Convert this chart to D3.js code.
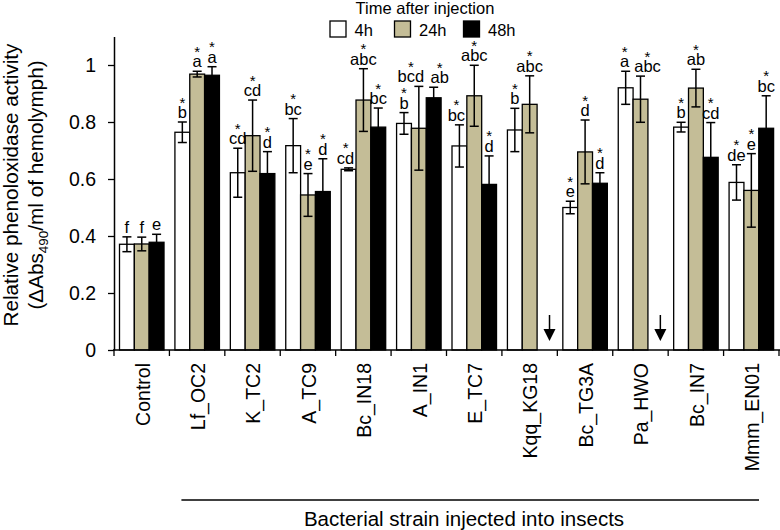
<!DOCTYPE html>
<html>
<head>
<meta charset="utf-8">
<script src="https://cdn.jsdelivr.net/npm/d3@7"></script>
<style>
  html, body { margin: 0; padding: 0; background: #fff; }
  svg { display: block; font-family: "Liberation Sans", Arial, sans-serif; }
</style>
</head>
<body>
<svg id="chart" width="780" height="530"></svg>
<script>
// ---------------- data ----------------
const categories = ["Control", "Lf_OC2", "K_TC2", "A_TC9", "Bc_IN18", "A_IN1", "E_TC7",
                    "Kqq_KG18", "Bc_TG3A", "Pa_HWO", "Bc_IN7", "Mmm_EN01"];
const seriesNames = ["4h", "24h", "48h"];
const v4h  = [0.371, 0.764, 0.622, 0.717, 0.634, 0.795, 0.716, 0.772, 0.500, 0.920, 0.782, 0.588];
const v24h = [0.372, 0.968, 0.752, 0.544, 0.877, 0.778, 0.892, 0.862, 0.695, 0.880, 0.919, 0.560];
const v48h = [0.378, 0.964, 0.619, 0.556, 0.782, 0.885, 0.581, null,  0.585, null,  0.676, 0.778];
const e4h  = [0.026, 0.036, 0.086, 0.095, 0.005, 0.038, 0.074, 0.076, 0.022, 0.058, 0.017, 0.062];
const e24h = [0.024, 0.010, 0.125, 0.075, 0.110, 0.147, 0.107, 0.100, 0.112, 0.081, 0.066, 0.129];
const e48h = [0.028, 0.030, 0.077, 0.115, 0.067, 0.037, 0.100, null,  0.037, null,  0.122, 0.114];
const l4h  = ["f", "b", "cd", "bc", "cd", "b", "bc", "b", "e", "a", "b", "de"];
const l24h = ["f", "a", "cd", "e", "abc", "bcd", "abc", "abc", "d", "abc", "ab", "e"];
const l48h = ["e", "a", "d", "d", "bc", "ab", "d", null, "d", null, "cd", "bc"];
const starred = [false, true, true, true, true, true, true, true, true, true, true, true];
const yTicks = [0, 0.2, 0.4, 0.6, 0.8, 1];
const yMax = 1.1;

// ---------------- layout / style ----------------
const fills = { "4h": "#ffffff", "24h": "#c4bd97", "48h": "#000000" };
const FONT = '"Liberation Sans", Arial, sans-serif';
const plotLeft = 114, plotRight = 779, plotBottom = 350, plotTop = 36.5;
// manual label nudges to avoid overlap (category|series -> dx px)
const labelNudge = { "A_IN1|24h": -8, "A_IN1|48h": 6, "Bc_IN18|4h": -3, "E_TC7|4h": -3,
                     "Pa_HWO|24h": 7, "Pa_HWO|4h": -1 };

const vals = { "4h": v4h, "24h": v24h, "48h": v48h };
const errs = { "4h": e4h, "24h": e24h, "48h": e48h };
const lets = { "4h": l4h, "24h": l24h, "48h": l48h };

const rows = [];
categories.forEach((c, i) => {
  seriesNames.forEach(s => {
    rows.push({ cat: c, idx: i, s, v: vals[s][i], e: errs[s][i], l: lets[s][i], star: starred[i] });
  });
});

const svg = d3.select("#chart");

const x0 = d3.scaleBand().domain(categories).range([plotLeft, plotRight]).padding(0);
const bwCat = x0.bandwidth();
const x1 = d3.scaleBand().domain(seriesNames).range([5.5, bwCat - 5.4]).padding(0);
const y = d3.scaleLinear().domain([0, yMax]).range([plotBottom, plotTop]);

const present = rows.filter(d => d.v !== null);

// bars
svg.append("g").selectAll("rect").data(present).join("rect")
  .attr("x", d => x0(d.cat) + x1(d.s))
  .attr("y", d => y(d.v))
  .attr("width", x1.bandwidth())
  .attr("height", d => y(0) - y(d.v))
  .attr("fill", d => fills[d.s])
  .attr("stroke", "#000")
  .attr("stroke-width", 1.3);

// error bars
const eg = svg.append("g").attr("stroke", "#000").attr("stroke-width", 1.5).attr("fill", "none");
const cap = 4.5;
present.forEach(d => {
  const cx = x0(d.cat) + x1(d.s) + x1.bandwidth() / 2;
  const yt = y(d.v + d.e), yb = y(d.v - d.e);
  eg.append("line").attr("x1", cx).attr("x2", cx).attr("y1", yt).attr("y2", yb);
  eg.append("line").attr("x1", cx - cap).attr("x2", cx + cap).attr("y1", yt).attr("y2", yt);
  eg.append("line").attr("x1", cx - cap).attr("x2", cx + cap).attr("y1", yb).attr("y2", yb);
});

// letters and asterisks (one text element per bar: asterisk line above letter line)
const lg = svg.append("g").attr("font-family", FONT).attr("text-anchor", "middle").attr("fill", "#000");
present.forEach(d => {
  const cx = x0(d.cat) + x1(d.s) + x1.bandwidth() / 2 + (labelNudge[d.cat + "|" + d.s] || 0);
  const base = y(d.v + d.e) - 4;
  const t = lg.append("text").attr("x", cx).attr("y", base);
  if (d.star) {
    t.append("tspan").attr("x", cx).attr("y", base - 10.5).attr("font-size", 15).text("*");
  }
  t.append("tspan").attr("x", cx).attr("y", base).attr("font-size", 16.5).text(d.l);
});

// arrows for missing bars
const ag = svg.append("g");
rows.filter(d => d.v === null).forEach(d => {
  const cx = x0(d.cat) + x1(d.s) + x1.bandwidth() / 2 + 5;
  const yTop = y(0) - 35, yHeadTop = y(0) - 21, yTip = y(0) - 9;
  ag.append("line").attr("x1", cx).attr("x2", cx).attr("y1", yTop).attr("y2", yHeadTop + 2)
    .attr("stroke", "#000").attr("stroke-width", 1.5);
  ag.append("path").attr("d", `M${cx - 6},${yHeadTop} L${cx + 6},${yHeadTop} L${cx},${yTip} Z`).attr("fill", "#000");
});

// y axis
const yAxis = d3.axisLeft(y).tickValues(yTicks).tickSize(6).tickSizeOuter(0).tickPadding(12)
  .tickFormat(d => String(d));
const yg = svg.append("g").attr("transform", `translate(${plotLeft},0)`).call(yAxis);
yg.select(".domain").attr("stroke-width", 1.5);
yg.selectAll(".tick line").attr("stroke-width", 1.3);
yg.selectAll(".tick text").attr("font-family", FONT).attr("font-size", 19.5).attr("fill", "#000");

// x axis line & ticks at category boundaries
const xg = svg.append("g").attr("stroke", "#000");
xg.append("line").attr("x1", plotLeft - 1).attr("x2", plotRight + 1)
  .attr("y1", y(0)).attr("y2", y(0)).attr("stroke-width", 1.5);
const bounds = categories.map(c => x0(c)).concat([x0.range()[1]]);
xg.selectAll("line.tk").data(bounds).join("line").attr("class", "tk")
  .attr("x1", d => d).attr("x2", d => d).attr("y1", y(0)).attr("y2", y(0) + 6).attr("stroke-width", 1.3);

// category labels
svg.append("g").selectAll("text").data(categories).join("text")
  .attr("transform", c => `translate(${x0(c) + bwCat / 2 + 1},${y(0) + 13}) rotate(-90)`)
  .attr("text-anchor", "end")
  .attr("dy", "0.35em")
  .attr("font-family", FONT).attr("font-size", 19.5).attr("fill", "#000")
  .text(c => c);

// bracket line and x title
const lineX1 = x0(categories[1]) + 12, lineX2 = x0.range()[1] - 20;
svg.append("line").attr("x1", lineX1).attr("x2", lineX2).attr("y1", 500).attr("y2", 500)
  .attr("stroke", "#000").attr("stroke-width", 1.3);
svg.append("text").attr("x", 464).attr("y", 526).attr("text-anchor", "middle")
  .attr("font-family", FONT).attr("font-size", 20.5).attr("fill", "#000")
  .text("Bacterial strain injected into insects");

// y title
const yt = svg.append("g").attr("font-family", FONT).attr("font-size", 20.7).attr("fill", "#000")
  .attr("text-anchor", "middle");
yt.append("text").attr("transform", "translate(18,185) rotate(-90)").text("Relative phenoloxidase activity");
const t2 = yt.append("text").attr("transform", "translate(43,185) rotate(-90)");
t2.append("tspan").text("(ΔAbs");
t2.append("tspan").attr("font-size", 13.5).attr("dy", 5).text("490");
t2.append("tspan").attr("dy", -5).text("/ml of hemolymph)");

// legend
const leg = svg.append("g").attr("font-family", FONT).attr("fill", "#000");
leg.append("text").attr("x", 425).attr("y", 13.5).attr("text-anchor", "middle").attr("font-size", 16.5)
  .text("Time after injection");
const legX = [330, 394.5, 463.5];
seriesNames.forEach((s, i) => {
  leg.append("rect").attr("x", legX[i]).attr("y", 21).attr("width", 16).attr("height", 16)
    .attr("fill", fills[s]).attr("stroke", "#000").attr("stroke-width", 1.3);
  leg.append("text").attr("x", legX[i] + 24.5).attr("y", 35.5).attr("font-size", 16.5).text(s);
});
</script>
</body>
</html>
